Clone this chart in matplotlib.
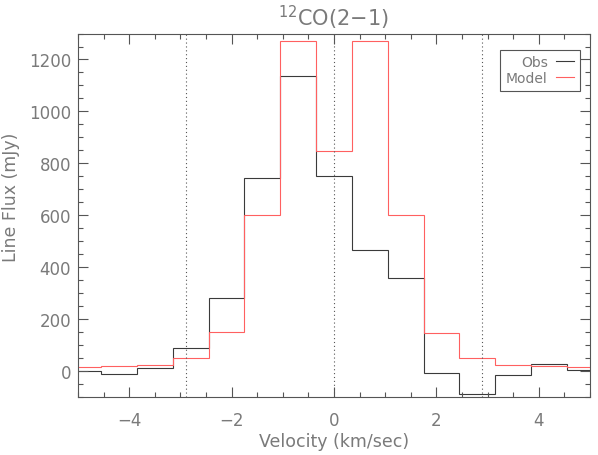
import numpy as np
import matplotlib
matplotlib.use("Agg")
import matplotlib.pyplot as plt

# channel centres (km/s) and fluxes (mJy)
velocity = np.arange(-7, 8) * 0.70
obs_flux = [1, -10, 13, 88, 283, 742, 1135, 750, 466, 357, -8, -88, -14, 27, 3]
model_flux = [14, 18, 23, 51, 149, 602, 1270, 846, 1270, 602, 148, 51, 23, 18, 14]
marker_lines = [-2.9, 0.0, 2.9]

grey = "#7a7a7a"
plt.rcParams["font.family"] = ["DejaVu Sans"]

fig = plt.figure(figsize=(5.98, 4.56), dpi=100)
ax = fig.add_axes([0.1304, 0.1272, 0.8562, 0.7971])

dv = velocity[1] - velocity[0]
edges = np.append(velocity - dv / 2, velocity[-1] + dv / 2)
ax.stairs(obs_flux, edges, baseline=None, color="#3a3a3a", lw=0.8, label="Obs")
ax.stairs(model_flux, edges, baseline=None, color="#ff6060", lw=0.8, label="Model")

for v in marker_lines:
    ax.axvline(v, color="#555555", lw=0.8, ls=(0, (1, 2.5)))

ax.set_xlim(-5, 5)
ax.set_ylim(-100, 1300)
ax.set_xticks([-4, -2, 0, 2, 4])
ax.set_xticklabels(["\u22124", "\u22122", "0", "2", "4"])
ax.set_xticks(np.arange(-5, 5.01, 0.5), minor=True)
ax.set_yticks(np.arange(0, 1201, 200))
ax.set_yticks(np.arange(-100, 1301, 50), minor=True)

ax.tick_params(which="both", direction="in", top=True, right=True,
               color="#555555", width=0.8)
ax.tick_params(which="major", length=7.2, labelsize=12, labelcolor=grey)
ax.tick_params(which="minor", length=3.6)
ax.tick_params(axis="x", pad=10)
ax.tick_params(axis="y", pad=5)
for s in ax.spines.values():
    s.set_color("#555555")
    s.set_linewidth(0.8)

ax.set_xlabel("Velocity (km/sec)", fontsize=12.5, color=grey, labelpad=2)
ax.set_ylabel("Line Flux (mJy)", fontsize=12.5, color=grey)
ax.yaxis.set_label_coords(-0.114, 0.552)
ax.set_title("$^{12}$CO(2\u22121)", fontsize=15, color=grey, pad=6)

leg = ax.legend(loc="upper right", bbox_to_anchor=(0.980, 0.956), borderaxespad=0,
                markerfirst=False, fontsize=10, handlelength=1.3, handletextpad=0.6,
                borderpad=0.4, labelspacing=0.15, fancybox=False, framealpha=1)
leg.get_frame().set_edgecolor("#555555")
leg.get_frame().set_linewidth(0.8)
for t in leg.get_texts():
    t.set_color(grey)
    t.set_ha("right")

fig.savefig("out.png", dpi=100)
